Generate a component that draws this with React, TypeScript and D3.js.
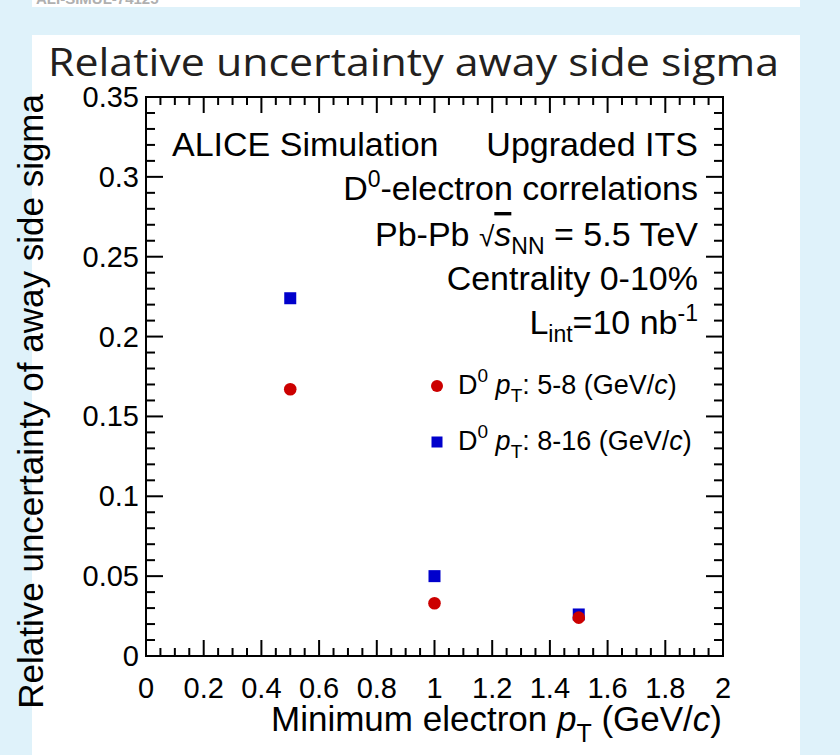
import React from 'react';
import * as d3 from 'd3';

const W = 840;
const H = 755;

const xDomain: [number, number] = [0, 2];
const yDomain: [number, number] = [0, 0.35];
const xMajorTicks = [0, 0.2, 0.4, 0.6, 0.8, 1, 1.2, 1.4, 1.6, 1.8, 2];
const xTickLabels = ['0', '0.2', '0.4', '0.6', '0.8', '1', '1.2', '1.4', '1.6', '1.8', '2'];
const yMajorTicks = [0, 0.05, 0.1, 0.15, 0.2, 0.25, 0.3, 0.35];
const yTickLabels = ['0', '0.05', '0.1', '0.15', '0.2', '0.25', '0.3', '0.35'];

const electronPtMin = [0.5, 1, 1.5];
const relUncPt5to8 = [0.167, 0.033, 0.024];
const relUncPt8to16 = [0.224, 0.050, 0.026];

const RED = '#cc0000';
const BLUE = '#0000cc';
const FONT = "'Liberation Sans', Arial, Helvetica, sans-serif";

export default function App() {
  const left = 146, right = 723, top = 97, bottom = 656;
  const x = d3.scaleLinear().domain(xDomain).range([left, right]);
  const y = d3.scaleLinear().domain(yDomain).range([bottom, top]);

  const xMinor = d3.range(0, 2.0001, 0.05);
  const yMinor = d3.range(0, 0.35001, 0.01);
  const isMajor = (v: number, step: number) => Math.abs(v / step - Math.round(v / step)) < 1e-6;

  const tickColor = '#000';
  const tickW = 2;

  return (
    <svg width={W} height={H} style={{ position: 'absolute', left: 0, top: 0, display: 'block' }}>
      <rect x={0} y={0} width={W} height={H} fill="#dff2fa" />
      <defs>
        <clipPath id="stripClip">
          <rect x={32} y={0} width={768} height={7} />
        </clipPath>
      </defs>
      <rect x={32} y={0} width={768} height={7} fill="#fff" />
      <text x={36} y={4} fontFamily={FONT} fontSize={15} fontWeight="bold" fill="#b0b0b0" clipPath="url(#stripClip)">ALI-SIMUL-74125</text>
      <rect x={32} y={35} width={768} height={H - 35} fill="#fff" />

      <text x={48} y={76} fontFamily="'Open Sans', Lato, sans-serif" fontSize={39} fill="#231f20" textLength={731} lengthAdjust="spacingAndGlyphs">Relative uncertainty away side sigma</text>

      {/* ticks */}
      <g stroke={tickColor} strokeWidth={tickW}>
        {xMinor.map((v, i) => {
          const len = isMajor(v, 0.2) ? 16 : 8;
          return (
            <g key={'xm' + i}>
              <line x1={x(v)} x2={x(v)} y1={bottom} y2={bottom - len} />
              <line x1={x(v)} x2={x(v)} y1={top} y2={top + len} />
            </g>
          );
        })}
        {yMinor.map((v, i) => {
          const len = isMajor(v, 0.05) ? 17 : 9;
          return (
            <g key={'ym' + i}>
              <line x1={left} x2={left + len} y1={y(v)} y2={y(v)} />
              <line x1={right} x2={right - len} y1={y(v)} y2={y(v)} />
            </g>
          );
        })}
      </g>
      <rect x={left} y={top} width={right - left} height={bottom - top} fill="none" stroke="#000" strokeWidth={2} />

      {/* tick labels */}
      {xMajorTicks.map((v, i) => (
        <text key={'xl' + i} x={x(v)} y={698} textAnchor="middle" fontFamily={FONT} fontSize={29} fill="#000">{xTickLabels[i]}</text>
      ))}
      {yMajorTicks.map((v, i) => (
        <text key={'yl' + i} x={left - 7} y={y(v) + 10} textAnchor="end" fontFamily={FONT} fontSize={29} fill="#000">{yTickLabels[i]}</text>
      ))}

      {/* axis titles */}
      <text x={722} y={731} textAnchor="end" fontFamily={FONT} fontSize={35} fill="#000">
        Minimum electron <tspan fontStyle="italic">p</tspan><tspan dy={11} fontSize={25}>T</tspan><tspan dy={-11}> (GeV/</tspan><tspan fontStyle="italic">c</tspan>)
      </text>
      <text transform="rotate(-90)" x={-94} y={43} textAnchor="end" fontFamily={FONT} fontSize={35} fill="#000">
        Relative uncertainty of away side sigma
      </text>

      {/* annotations */}
      <g fontFamily={FONT} fontSize={34} fill="#000">
        <text x={172} y={156}>ALICE Simulation</text>
        <text x={698} y={156} textAnchor="end">Upgraded ITS</text>
        <text x={698} y={200} textAnchor="end">D<tspan dy={-13} fontSize={23}>0</tspan><tspan dy={13}>-electron correlations</tspan></text>
        <text x={698} y={246} textAnchor="end">
          Pb-Pb <tspan fontSize={28}>√</tspan><tspan fontStyle="italic" style={{ textDecoration: 'overline' }}>s</tspan><tspan dy={8} fontSize={23}>NN</tspan><tspan dy={-8}> = 5.5 TeV</tspan>
        </text>
        <text x={698} y={290} textAnchor="end">Centrality 0-10%</text>
        <text x={698} y={334} textAnchor="end">L<tspan dy={8} fontSize={23}>int</tspan><tspan dy={-8}>=10 nb</tspan><tspan dy={-13} fontSize={23}>-1</tspan></text>
      </g>

      {/* legend */}
      <g fontFamily={FONT} fontSize={27} fill="#000">
        <circle cx={437} cy={386} r={6} fill={RED} />
        <text x={458} y={394}>D<tspan dy={-12} fontSize={19}>0</tspan><tspan dy={12}> </tspan><tspan fontStyle="italic">p</tspan><tspan dy={8} fontSize={19}>T</tspan><tspan dy={-8}>: 5-8 (GeV/</tspan><tspan fontStyle="italic">c</tspan>)</text>
        <rect x={431.5} y={436.5} width={11} height={11} fill={BLUE} />
        <text x={458} y={450}>D<tspan dy={-12} fontSize={19}>0</tspan><tspan dy={12}> </tspan><tspan fontStyle="italic">p</tspan><tspan dy={8} fontSize={19}>T</tspan><tspan dy={-8}>: 8-16 (GeV/</tspan><tspan fontStyle="italic">c</tspan>)</text>
      </g>

      {/* data */}
      {electronPtMin.map((v, i) => (
        <rect key={'sq' + i} x={x(v) - 6} y={y(relUncPt8to16[i]) - 6} width={12} height={12} fill={BLUE} />
      ))}
      {electronPtMin.map((v, i) => (
        <circle key={'c' + i} cx={x(v)} cy={y(relUncPt5to8[i])} r={6.3} fill={RED} />
      ))}
    </svg>
  );
}
